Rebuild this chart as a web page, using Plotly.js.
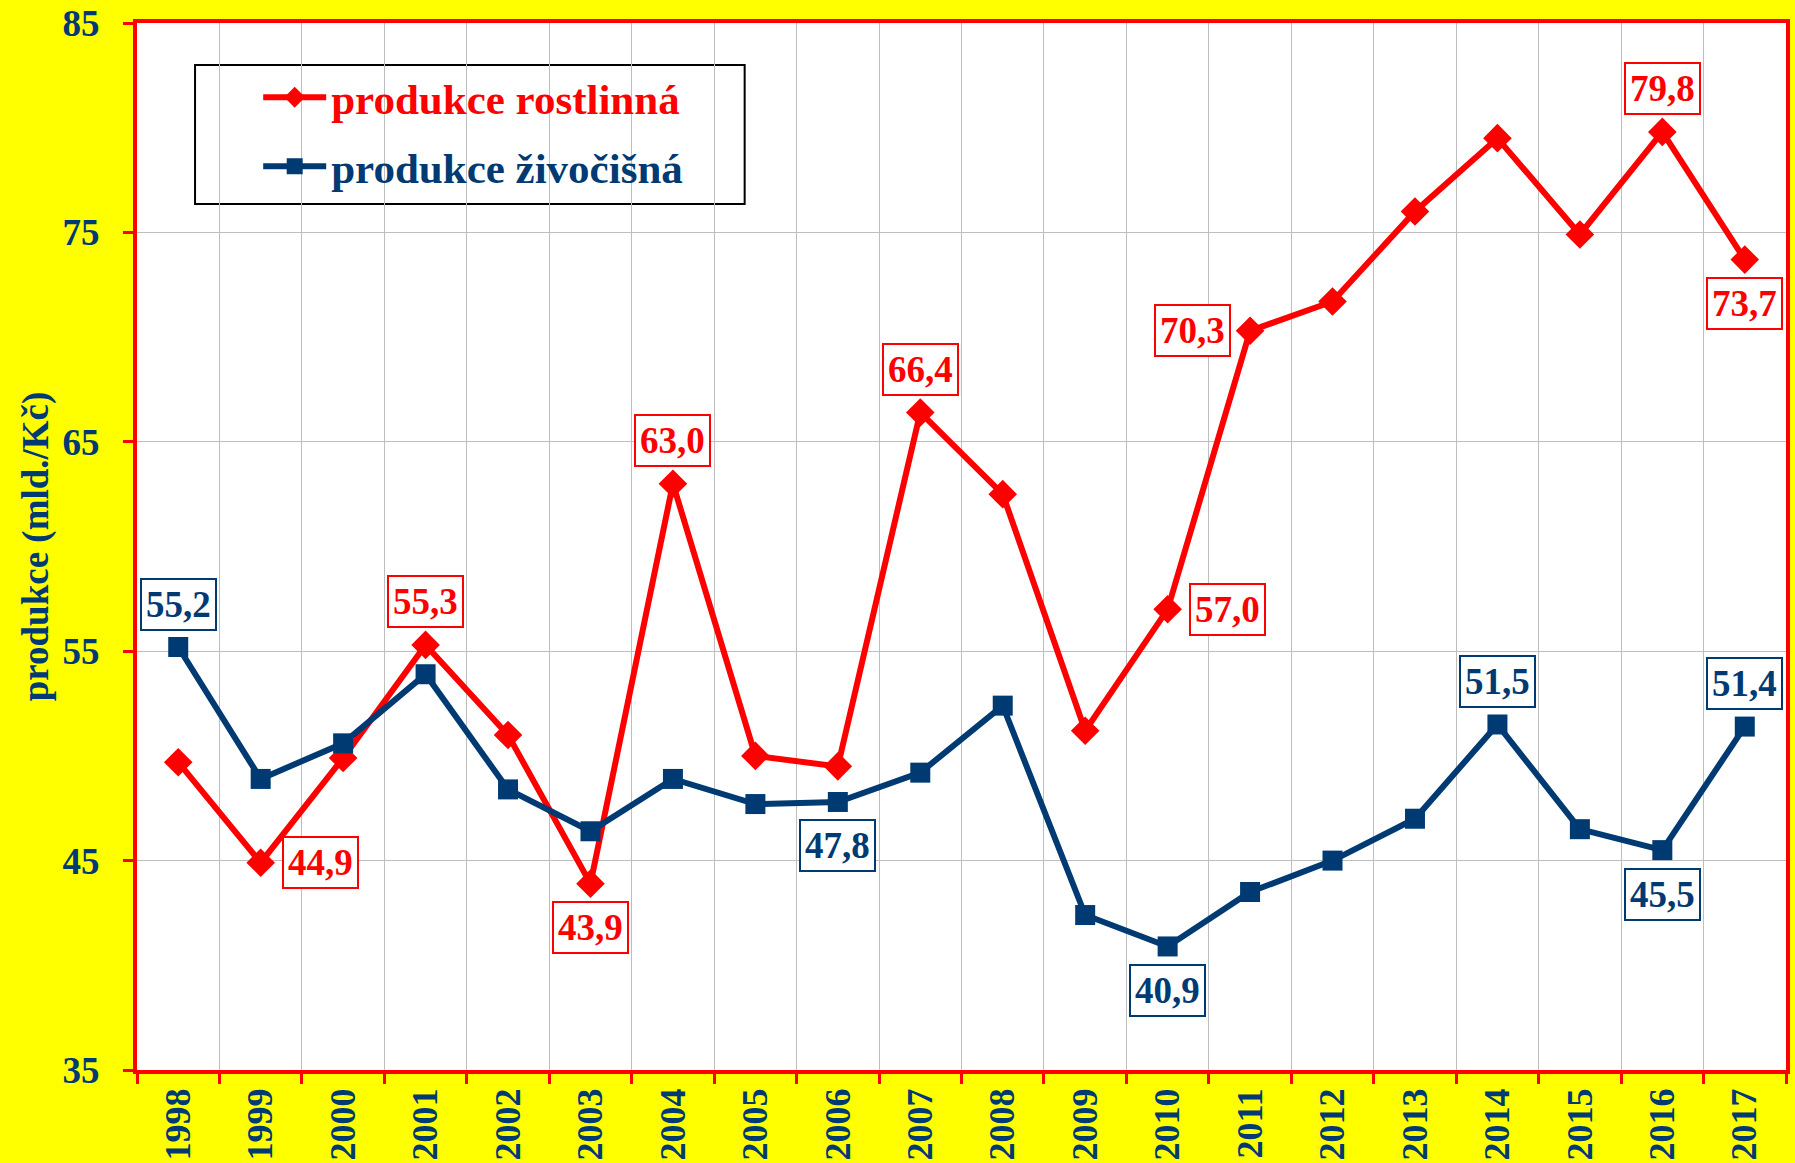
<!DOCTYPE html>
<html>
<head>
<meta charset="utf-8">
<script src="https://cdn.plot.ly/plotly-3.0.1.min.js"></script>
<style>
html, body { margin: 0; padding: 0; background: #FFFF00; }
#chart { width: 1795px; height: 1163px; }
</style>
</head>
<body>
<div id="chart"></div>
<script>
// ---- data ----
var years = ["1998","1999","2000","2001","2002","2003","2004","2005","2006","2007",
             "2008","2009","2010","2011","2012","2013","2014","2015","2016","2017"];
var rostlinna = [49.7, 44.9, 49.9, 55.3, 51.0, 43.9, 63.0, 50.0, 49.5, 66.4,
                 62.5, 51.2, 57.0, 70.3, 71.7, 76.0, 79.5, 74.9, 79.8, 73.7];
var zivocisna = [55.2, 48.9, 50.6, 53.9, 48.4, 46.4, 48.9, 47.7, 47.8, 49.2,
                 52.4, 42.4, 40.9, 43.5, 45.0, 47.0, 51.5, 46.5, 45.5, 51.4];
var seriesNames = ["produkce rostlinná", "produkce živočišná"];
var yTitle = "produkce (mld./Kč)";
// labelled points: [series index, year, placement]
var labelled = [
  [0, "1999", "right"], [0, "2001", "above"], [0, "2003", "below"], [0, "2004", "above"],
  [0, "2007", "above"], [0, "2010", "right"], [0, "2011", "left"], [0, "2016", "above"],
  [0, "2017", "below"],
  [1, "1998", "above"], [1, "2006", "below"], [1, "2010", "below"], [1, "2014", "above"],
  [1, "2016", "below"], [1, "2017", "above"]
];

var RED = "#FF0000";
var BLUE = "#003A73";
var FONT = "Liberation Serif, Times New Roman, serif";

var seriesVals = [rostlinna, zivocisna];
var seriesColors = [RED, BLUE];

var traces = [
  {
    x: years, y: rostlinna, type: "scatter", mode: "lines+markers",
    name: '<span style="color:' + RED + '">' + seriesNames[0] + '</span>',
    line: {color: RED, width: 6},
    marker: {symbol: "diamond", size: 22, color: RED},
    legendgroup: "a"
  },
  {
    x: years, y: zivocisna, type: "scatter", mode: "lines+markers",
    name: '<span style="color:' + BLUE + '">' + seriesNames[1] + '</span>',
    line: {color: BLUE, width: 6},
    marker: {symbol: "square", size: 20, color: BLUE},
    legendgroup: "b"
  }
];

var shifts = {
  above: [0, 43], below: [0, -44], left: [-58, 0], right: [60, 0]
};

var annotations = labelled.map(function (l) {
  var s = l[0], yr = l[1], pos = l[2];
  var idx = years.indexOf(yr);
  var v = seriesVals[s][idx];
  return {
    x: idx, y: v, xref: "x", yref: "y",
    text: v.toFixed(1).replace(".", ","),
    showarrow: false,
    xshift: shifts[pos][0], yshift: shifts[pos][1],
    font: {family: FONT, size: 37, color: seriesColors[s], weight: "bold"},
    bgcolor: "#FFFFFF", bordercolor: seriesColors[s], borderwidth: 2, borderpad: 4
  };
});

var layout = {
  width: 1795, height: 1163,
  paper_bgcolor: "#FFFF00",
  plot_bgcolor: "#FFFFFF",
  margin: {l: 137, r: 9, t: 23, b: 93},
  font: {family: FONT, color: BLUE, weight: "bold"},
  showlegend: true,
  legend: {
    x: 0.0735, y: 0.962, xanchor: "left", yanchor: "top",
    bgcolor: "rgba(0,0,0,0)", borderwidth: 0,
    font: {family: FONT, size: 43, weight: "bold"},
    itemwidth: 63, tracegroupgap: 10, traceorder: "grouped"
  },
  shapes: [{
    type: "rect", xref: "paper", yref: "paper", layer: "between",
    x0: 0.0352, x1: 0.3685, y0: 0.8271, y1: 0.9599,
    fillcolor: "#FFFFFF", line: {color: "#000000", width: 2}
  }],
  xaxis: {
    type: "category",
    range: [-0.5, 19.5],
    tickson: "boundaries",
    showgrid: true, gridcolor: "#BEBEBE", gridwidth: 1,
    showline: true, linecolor: RED, linewidth: 4, mirror: true,
    ticks: "outside", ticklen: 10, tickwidth: 3, tickcolor: RED,
    tickangle: -90,
    tickfont: {family: FONT, size: 36, color: BLUE, weight: "bold"},
    zeroline: false
  },
  yaxis: {
    range: [35, 85], tick0: 35, dtick: 10,
    showgrid: true, gridcolor: "#BEBEBE", gridwidth: 1,
    showline: true, linecolor: RED, linewidth: 4, mirror: true,
    ticks: "outside", ticklen: 10, tickwidth: 3, tickcolor: RED,
    ticklabelstandoff: 16,
    tickfont: {family: FONT, size: 37, color: BLUE, weight: "bold"},
    title: {text: yTitle, font: {family: FONT, size: 37, color: BLUE, weight: "bold"}, standoff: 4},
    zeroline: false
  },
  annotations: annotations
};

Plotly.newPlot("chart", traces, layout, {displayModeBar: false, staticPlot: true});
</script>
</body>
</html>
